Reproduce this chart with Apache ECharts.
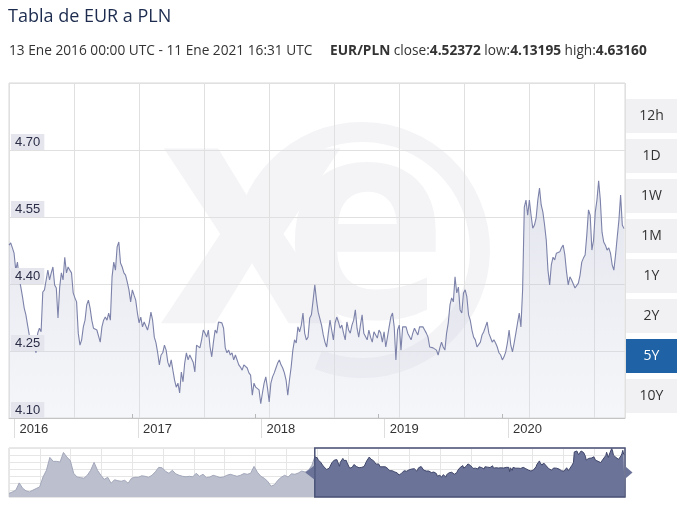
<!DOCTYPE html>
<html><head><meta charset="utf-8">
<script src="https://cdn.jsdelivr.net/npm/echarts@6/dist/echarts.min.js"></script>
<style>html,body{margin:0;padding:0;background:#fff}#c{width:689px;height:512px}</style>
</head><body><div id="c"></div>
<script>
// ---------- data ----------
const titleText = 'Tabla de EUR a PLN';
const rangeText = '13 Ene 2016 00:00 UTC - 11 Ene 2021 16:31 UTC';
const pairName = 'EUR/PLN';
const statNames = ['close', 'low', 'high'];
const statValues = ['4.52372', '4.13195', '4.63160'];
const rangeButtons = ['12h', '1D', '1W', '1M', '1Y', '2Y', '5Y', '10Y'];
const activeButton = '5Y';
const yTickLabels = ['4.10', '4.25', '4.40', '4.55', '4.70'];
const yMin = 4.10, yMax = 4.85;
const yearTicks = ['2016-01-01', '2017-01-01', '2018-01-01', '2019-01-01', '2020-01-01'];
const viewMin = '2016-01-03', viewMax = '2020-12-30';
// main series: one reading every 5 days from mainStart
const mainStart = '2016-01-03';
const mainStepDays = 5;
const mainValues = [
4.487,4.492,4.481,4.469,4.431,4.449,4.413,4.393,4.371,4.346,
4.331,4.308,4.286,4.275,4.268,4.263,4.246,4.290,4.301,4.293,
4.382,4.387,4.409,4.431,4.409,4.425,4.438,4.398,4.391,4.324,
4.393,4.425,4.409,4.460,4.425,4.438,4.431,4.425,4.380,4.369,
4.360,4.290,4.263,4.275,4.304,4.319,4.353,4.364,4.346,4.319,
4.301,4.304,4.297,4.301,4.270,4.304,4.319,4.326,4.319,4.335,
4.319,4.416,4.449,4.431,4.483,4.494,4.447,4.438,4.425,4.420,
4.404,4.387,4.360,4.387,4.375,4.364,4.335,4.313,4.326,4.304,
4.315,4.319,4.297,4.313,4.337,4.319,4.281,4.268,4.246,4.219,
4.241,4.246,4.263,4.252,4.225,4.214,4.230,4.207,4.185,4.169,
4.178,4.156,4.203,4.181,4.223,4.246,4.230,4.241,4.237,4.225,
4.203,4.263,4.259,4.257,4.275,4.297,4.290,4.281,4.297,4.259,
4.237,4.270,4.297,4.290,4.315,4.319,4.313,4.301,4.257,4.246,
4.252,4.241,4.246,4.230,4.241,4.237,4.219,4.214,4.207,4.219,
4.223,4.212,4.201,4.196,4.151,4.178,4.169,4.169,4.163,4.132,
4.156,4.178,4.192,4.167,4.136,4.178,4.192,4.201,4.212,4.223,
4.230,4.219,4.212,4.201,4.185,4.151,4.185,4.214,4.252,4.275,
4.268,4.304,4.293,4.308,4.335,4.290,4.275,4.281,4.324,4.331,
4.364,4.398,4.364,4.337,4.337,4.308,4.286,4.270,4.259,4.290,
4.319,4.297,4.275,4.313,4.326,4.315,4.301,4.308,4.290,4.275,
4.315,4.297,4.290,4.308,4.319,4.342,4.301,4.281,4.308,4.331,
4.290,4.286,4.275,4.297,4.281,4.270,4.293,4.297,4.279,4.297,
4.290,4.270,4.293,4.259,4.281,4.304,4.326,4.335,4.304,4.230,
4.297,4.308,4.252,4.304,4.301,4.304,4.290,4.286,4.275,4.290,
4.301,4.293,4.286,4.304,4.308,4.304,4.297,4.290,4.281,4.259,
4.263,4.257,4.259,4.252,4.241,4.257,4.270,4.259,4.252,4.290,
4.313,4.353,4.369,4.360,4.416,4.380,4.393,4.342,4.335,4.380,
4.387,4.371,4.331,4.319,4.297,4.281,4.275,4.259,4.257,4.270,
4.286,4.293,4.304,4.315,4.290,4.286,4.270,4.275,4.268,4.259,
4.246,4.241,4.230,4.237,4.248,4.268,4.297,4.263,4.248,4.268,
4.290,4.313,4.335,4.304,4.387,4.572,4.588,4.554,4.588,4.554,
4.525,4.532,4.548,4.588,4.615,4.577,4.561,4.532,4.498,4.431,
4.398,4.443,4.460,4.454,4.469,4.465,4.472,4.481,4.487,4.465,
4.427,4.398,4.416,4.409,4.400,4.391,4.387,4.402,4.420,4.449,
4.458,4.465,4.510,4.566,4.554,4.476,4.498,4.561,4.588,4.631,
4.588,4.516,4.494,4.487,4.476,4.481,4.469,4.443,4.431,4.465,
4.505,4.543,4.599,4.532,4.524
];
// navigator history before the selected range: one reading every 20 days
const navStart = '2011-02-01';
const navStepDays = 20;
const navValues = [
3.851,3.878,3.908,4.034,3.942,3.896,3.878,3.908,3.937,3.965,
4.137,4.253,4.477,4.408,4.408,4.396,4.563,4.482,4.425,4.201,
4.137,4.127,4.115,4.166,4.253,4.390,4.253,4.166,4.097,4.132,
4.028,4.089,4.072,4.063,4.080,4.028,4.115,4.132,4.132,4.158,
4.149,4.132,4.166,4.227,4.304,4.296,4.235,4.201,4.253,4.192,
4.166,4.149,4.140,4.149,4.140,4.201,4.149,4.184,4.127,4.137,
4.166,4.149,4.127,4.137,4.166,4.184,4.166,4.149,4.166,4.196,
4.184,4.201,4.321,4.218,4.149,4.115,4.063,3.977,4.002,4.080,
4.132,4.166,4.137,4.192,4.184,4.206,4.240,4.223,4.253,4.339
];
const navYMin = 3.79, navYMax = 4.64;

// ---------- build ----------
const DAY = 86400000;
const T = s => echarts.time.parse(s).getTime();
const t0 = T(mainStart);
const mainData = mainValues.map((v, i) => [t0 + i * mainStepDays * DAY, v]);
const n0 = T(navStart);
const navData = navValues.map((v, i) => [n0 + i * navStepDays * DAY, v]).concat([mainData[0]]);
const yearT = yearTicks.map(T);
const vMin = T(viewMin), vMax = T(viewMax);
const sepShift = 18 * DAY; // separator lines sit slightly right of the year start
const navMid = (navYMin + navYMax) / 2;

const chart = echarts.init(document.getElementById('c'), null, { renderer: 'canvas' });

const labelFont = 'Liberation Sans';
const uiFont = 'Open Sans';

const subtitle = rangeText + '     {b|' + pairName + '} ' +
  statNames.map((n, i) => n + ':{b|' + statValues[i] + '}').join(' ');

const buttons = rangeButtons.map((b, i) => {
  const active = b === activeButton;
  return {
    type: 'group', left: 626, top: 99 + i * 40,
    children: [
      { type: 'rect', shape: { x: 0, y: 0, width: 51, height: 34 },
        style: { fill: active ? '#1f63a6' : '#f1f1f4' } },
      { type: 'text', style: { text: b, x: 25.5, y: 17, align: 'center', verticalAlign: 'middle',
        fontSize: 14, fontFamily: uiFont, fill: active ? '#ffffff' : '#333333' } }
    ]
  };
});

const hidden = { axisLine: { show: false }, axisTick: { show: false }, axisLabel: { show: false } };
const leftTri = 'path://M10,0 L10,12 L0,6 Z';
const rightTri = 'path://M0,0 L0,12 L10,6 Z';

const option = {
  animation: false,
  backgroundColor: '#ffffff',
  grid: [
    { left: 9, top: 83, width: 616, height: 335, show: true, borderColor: '#d8d8d8', borderWidth: 1,
      backgroundColor: 'transparent', containLabel: false, outerBoundsMode: 'none' },
    { left: 9, top: 448, width: 616, height: 49, show: true, borderColor: '#d0d0d0', borderWidth: 1,
      backgroundColor: 'transparent', containLabel: false, outerBoundsMode: 'none' }
  ],
  xAxis: [
    { type: 'value', gridIndex: 0, min: vMin, max: vMax, z: 6,
      axisLine: { show: true, lineStyle: { color: '#c4c4c4' } },
      axisTick: { show: true, inside: true, length: 4, customValues: yearT, lineStyle: { color: '#b8b8b8' } },
      axisLabel: { show: false }, splitLine: { show: false } },
    { type: 'value', gridIndex: 0, position: 'bottom', min: vMin - sepShift, max: vMax - sepShift,
      axisLine: { show: false },
      axisTick: { show: true, length: 20, customValues: yearT, lineStyle: { color: '#dedede' } },
      axisLabel: { show: true, customValues: yearT, formatter: v => String(new Date(v).getFullYear()),
        align: 'left', padding: [0, 0, 0, 5], margin: 5, color: '#333', fontSize: 13, fontFamily: labelFont },
      splitLine: { show: false } },
    Object.assign({ type: 'value', gridIndex: 0, position: 'top', min: 0, max: 616 / 65, interval: 1,
      splitLine: { show: true, lineStyle: { color: '#e0e0e0' } } }, hidden),
    { type: 'value', gridIndex: 1, min: n0, max: vMax, show: false },
    Object.assign({ type: 'value', gridIndex: 1, min: 0, max: 20, interval: 1,
      splitLine: { show: true, lineStyle: { color: '#e6e6e6' } } }, hidden)
  ],
  yAxis: [
    { type: 'value', gridIndex: 0, position: 'right', min: yMin, max: yMax, show: false },
    Object.assign({ type: 'value', gridIndex: 0, position: 'left', min: 0, max: yTickLabels.length, interval: 1,
      splitLine: { show: true, lineStyle: { color: '#e0e0e0' } } }, hidden),
    { type: 'value', gridIndex: 1, position: 'right', min: navYMin, max: navYMax, show: false },
    Object.assign({ type: 'value', gridIndex: 1, position: 'left', min: 0, max: 7, interval: 1,
      splitLine: { show: true, lineStyle: { color: '#e6e6e6' } } }, hidden),
    { type: 'value', gridIndex: 0, position: 'left', min: 0, max: yTickLabels.length, interval: 1, z: 10,
      axisLine: { show: false }, axisTick: { show: false }, splitLine: { show: false },
      axisLabel: { show: true, inside: true, showMaxLabel: false,
        formatter: v => yTickLabels[v] || '',
        verticalAlign: 'bottom', align: 'left', margin: 2,
        backgroundColor: '#e5e5ee', padding: [2, 4, 1, 4],
        color: '#2a2d45', fontSize: 13, fontFamily: labelFont } }
  ],
  series: [
    { type: 'line', name: pairName, xAxisIndex: 0, yAxisIndex: 0, data: mainData,
      symbol: 'none', z: 3,
      lineStyle: { color: '#7c82a9', width: 1.1 },
      areaStyle: { origin: 'start', color: new echarts.graphic.LinearGradient(0, 0, 0, 1, [
        { offset: 0, color: 'rgba(178,183,207,0.52)' }, { offset: 1, color: 'rgba(222,225,236,0.42)' }]) } },
    { type: 'line', xAxisIndex: 3, yAxisIndex: 2, data: navData, symbol: 'none', z: 3,
      lineStyle: { color: '#a2a7ba', width: 1 },
      areaStyle: { origin: 'start', color: '#bcc0ce', opacity: 1 } },
    { type: 'line', xAxisIndex: 3, yAxisIndex: 2, data: mainData, symbol: 'none', z: 4,
      lineStyle: { color: '#3f4669', width: 1 },
      areaStyle: { origin: 'start', color: '#6b7399', opacity: 1 },
      markArea: { silent: true, z: 10,
        itemStyle: { color: 'rgba(0,0,0,0)', borderColor: '#4a5277', borderWidth: 1.5 },
        data: [[{ xAxis: mainData[0][0], yAxis: navYMin }, { xAxis: vMax, yAxis: navYMax }]] } },
    { type: 'scatter', xAxisIndex: 3, yAxisIndex: 2, z: 20, silent: true,
      itemStyle: { color: '#6b7399', opacity: 1 },
      data: [
        { value: [mainData[0][0], navMid], symbol: leftTri, symbolSize: [9, 14], symbolOffset: [-5, 0] },
        { value: [vMax, navMid], symbol: rightTri, symbolSize: [7, 12], symbolOffset: [4, 0] }
      ] }
  ],
  graphic: [
    { type: 'group', z: -1, silent: true, children: [
      { type: 'arc', shape: { cx: 362, cy: 250, r: 118, startAngle: -2.75, endAngle: 1.95, clockwise: true },
        style: { stroke: '#f4f4f7', lineWidth: 20, fill: null } },
      { type: 'text', style: { text: 'x', x: 252, y: 232, align: 'center', verticalAlign: 'middle',
        font: 'bold 320px "Open Sans"', fill: '#f4f4f7' } },
      { type: 'text', style: { text: 'e', x: 365, y: 238, align: 'center', verticalAlign: 'middle',
        font: 'bold 280px "Open Sans"', fill: '#f4f4f7' } }
    ] },
    { type: 'text', left: 8, top: 8, style: { text: titleText, fontSize: 18, fontFamily: uiFont, fill: '#1c2b4e' } },
    { type: 'text', left: 9, top: 44, style: { text: subtitle, fontSize: 13.7, fontFamily: uiFont, fill: '#333333',
      rich: { b: { fontWeight: 'bold', fontSize: 13.7, fontFamily: uiFont, fill: '#333333', color: '#333333' } } } }
  ].concat(buttons)
};
chart.setOption(option);
</script>
</body></html>
